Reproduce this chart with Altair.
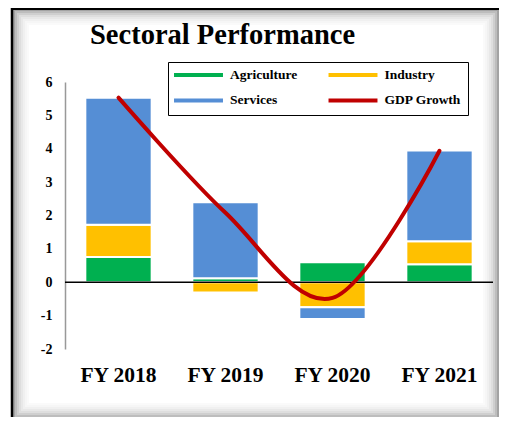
import altair as alt
import pandas as pd

# ---- data ----
categories = ["FY 2018", "FY 2019", "FY 2020", "FY 2021"]
agriculture = [0.76, 0.12, 0.60, 0.54]
industry = [0.96, -0.31, -0.75, 0.69]
services = [3.81, 2.28, -0.35, 2.72]
gdp_growth = [5.53, 2.08, -0.47, 3.94]

sectors = ["Agriculture", "Industry", "Services"]
legend_items = ["Agriculture", "Industry", "Services", "GDP Growth"]
colors = ["#00B050", "#FFC000", "#558ED5", "#C00000"]
y_ticks = [-2.0, -1.0, 0.0, 1.0, 2.0, 3.0, 4.0, 5.0, 6.0]

rows = []
for i, cat in enumerate(categories):
    for k, (name, vals) in enumerate(zip(sectors, [agriculture, industry, services])):
        rows.append({"year": cat, "series": name, "value": vals[i], "ord": k})
bars_df = pd.DataFrame(rows)
line_df = pd.DataFrame({"year": categories, "series": ["GDP Growth"] * 4, "value": gdp_growth})
zero_df = pd.DataFrame({"z": [0]})
dummy = pd.DataFrame({"d": [0]})

FONT = "Liberation Serif"
W, H = 428, 267

xscale = alt.Scale(domain=categories, paddingInner=0.38, paddingOuter=0.19)
yscale = alt.Scale(domain=[-2, 6], nice=False, zero=False)

x_axis = alt.Axis(title=None, labelFont=FONT, labelFontWeight="bold", labelFontSize=21.5,
                  labelColor="black", labelPadding=15, ticks=False, domain=False, labelAngle=0,
                  grid=False)
y_axis = alt.Axis(title=None, values=y_ticks, tickCount=9, labelExpr="toString(datum.value)",
                  labelFont=FONT, labelFontWeight="bold", labelFontSize=14, labelColor="black",
                  labelPadding=13, ticks=False, labelOverlap=False, labelSeparation=0,
                  domainColor="#999999", domainWidth=1.5, grid=False)

# ---- frame decoration (page border with inner shadow) ----
frame_layers = []
opac = [0.36, 0.26, 0.19, 0.13, 0.09, 0.06, 0.035, 0.02]
for i, op in enumerate(opac):
    frame_layers.append(
        alt.Chart(dummy).mark_rect(fill="transparent", stroke="black", strokeWidth=2,
                                   strokeOpacity=op).encode(
            x=alt.value(-51 + 2 * i), x2=alt.value(433 - 2 * i),
            y=alt.value(-72 + 2 * i), y2=alt.value(336 - 2 * i))
    )
frame_layers.append(
    alt.Chart(dummy).mark_rule(color="black", strokeWidth=3).encode(
        x=alt.value(-54), x2=alt.value(440), y=alt.value(-73.5)))
frame_layers.append(
    alt.Chart(dummy).mark_rule(color="black", strokeWidth=2.5).encode(
        x=alt.value(-53), y=alt.value(-75), y2=alt.value(340)))

bars = alt.Chart(bars_df).mark_bar(stroke="white", strokeWidth=2).encode(
    x=alt.X("year:N", scale=xscale, axis=x_axis, sort=categories),
    y=alt.Y("value:Q", scale=yscale, axis=y_axis, stack="zero"),
    fill=alt.Fill("series:N", scale=alt.Scale(domain=sectors, range=colors[:3]), legend=None),
    order=alt.Order("ord:Q"),
)

zero_rule = alt.Chart(zero_df).mark_rule(color="black", strokeWidth=1.5).encode(
    y=alt.Y("z:Q", axis=y_axis))

legend = alt.Legend(
    title=None, orient="none", legendX=103, legendY=-20, columns=2, direction="horizontal",
    strokeColor="black", fillColor="white", padding=6,
    symbolType="M-5.44,0H5.44", symbolSize=81, symbolStrokeWidth=4,
    symbolOffset=17.75, labelOffset=24.75, rowPadding=8.7, columnPadding=22.5,
    labelFont=FONT, labelFontWeight="bold", labelFontSize=13.5, labelColor="black",
)

line = alt.Chart(line_df).mark_line(strokeWidth=4, interpolate="cardinal", strokeCap="round").encode(
    x=alt.X("year:N", sort=categories, axis=x_axis),
    y=alt.Y("value:Q", axis=y_axis),
    stroke=alt.Stroke("series:N", scale=alt.Scale(domain=legend_items, range=colors), legend=legend),
)

chart = alt.layer(*frame_layers, bars, zero_rule, line).properties(
    width=W, height=H,
    autosize=alt.AutoSizeParams(type="none"),
    padding={"left": 57, "top": 74, "right": 6, "bottom": 68},
    background="white",
    title=alt.TitleParams("Sectoral Performance", font=FONT, fontSize=28.5, fontWeight="bold",
                          color="black", anchor="start", frame="group", dx=25, offset=-44),
).configure_view(strokeWidth=0).configure_axis(labelOverlap=False)

chart.save("out.html", embed_options={"renderer": "svg", "actions": False})
